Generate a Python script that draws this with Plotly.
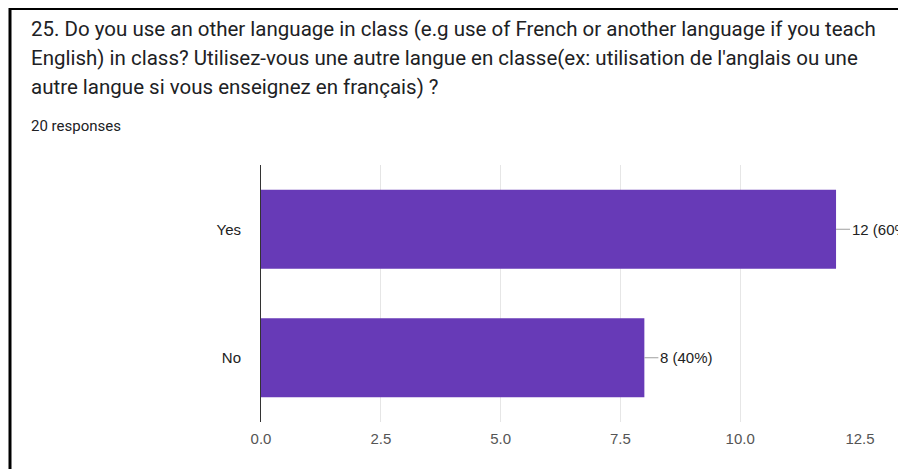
import plotly.graph_objects as go

# data
categories = ["Yes", "No"]
counts = [12, 8]
total = 20
title_lines = [
    "25. Do you use an other language in class (e.g use of French or another language if you teach",
    "English) in class? Utilisez-vous une autre langue en classe(ex: utilisation de l'anglais ou une",
    "autre langue si vous enseignez en français) ?",
]
subtitle = "20 responses"
x_ticks = [0, 2.5, 5, 7.5, 10, 12.5]

# the page body has an 8px margin, so lay out in screen pixels minus that
OFF = 8
W, H = 906, 469 - OFF
L, T = 261 - OFF, 165 - OFF
R = W - (860 - OFF)
B = H - (422 - OFF)
pw, ph = W - L - R, H - T - B


def px(x):
    return (x - OFF - L) / pw


def py(y):
    return (H - B - (y - OFF)) / ph


fig = go.Figure()
fig.add_trace(go.Bar(
    x=counts,
    y=categories,
    orientation="h",
    width=0.615,
    marker=dict(color="#673ab7", line=dict(width=0)),
    hoverinfo="skip",
))

# labels with short leader lines
for c, n in zip(categories, counts):
    fig.add_annotation(
        x=n, y=c, xref="x", yref="y",
        text=f"{n} ({round(n / total * 100)}%)",
        showarrow=True, arrowhead=0, arrowwidth=1, arrowcolor="#9e9e9e",
        ax=14, ay=0, xanchor="left", standoff=0,
        font=dict(family="Liberation Sans, Arial", size=15, color="#222222"),
    )

# title block
for i, line in enumerate(title_lines):
    fig.add_annotation(
        x=px(29), y=py(29 + i * 29), xref="paper", yref="paper",
        text=line, showarrow=False, xanchor="left", yanchor="middle",
        font=dict(family="Roboto, Arial", size=20.5, color="#202124"),
    )
fig.add_annotation(
    x=px(29), y=py(126), xref="paper", yref="paper",
    text=subtitle, showarrow=False, xanchor="left", yanchor="middle",
    font=dict(family="Roboto, Arial", size=15, color="#202124"),
)

# outer border (top and left)
fig.add_shape(type="line", xref="paper", yref="paper",
              x0=px(9), x1=px(930), y0=py(9), y1=py(9),
              line=dict(color="black", width=2))
fig.add_shape(type="line", xref="paper", yref="paper",
              x0=px(10), x1=px(10), y0=py(8), y1=py(480),
              line=dict(color="black", width=3))

fig.update_layout(
    width=W, height=H,
    margin=dict(l=L, r=R, t=T, b=B, autoexpand=False),
    paper_bgcolor="white", plot_bgcolor="white",
    showlegend=False,
    xaxis=dict(
        range=[0, 12.5], tickvals=x_ticks, tickformat=".1f",
        showgrid=True, gridcolor="#e6e6e6", gridwidth=1,
        zeroline=False, showline=False, ticks="",
        tickfont=dict(family="Liberation Sans, Arial", size=15, color="#555555"),
        ticklabelstandoff=6,
    ),
    yaxis=dict(
        categoryorder="array", categoryarray=categories[::-1],
        showgrid=False, zeroline=False,
        showline=True, linecolor="#333333", linewidth=1,
        ticks="", ticklabelstandoff=16,
        tickfont=dict(family="Liberation Sans, Arial", size=15, color="#222222"),
    ),
)

fig.write_html("out.html")
